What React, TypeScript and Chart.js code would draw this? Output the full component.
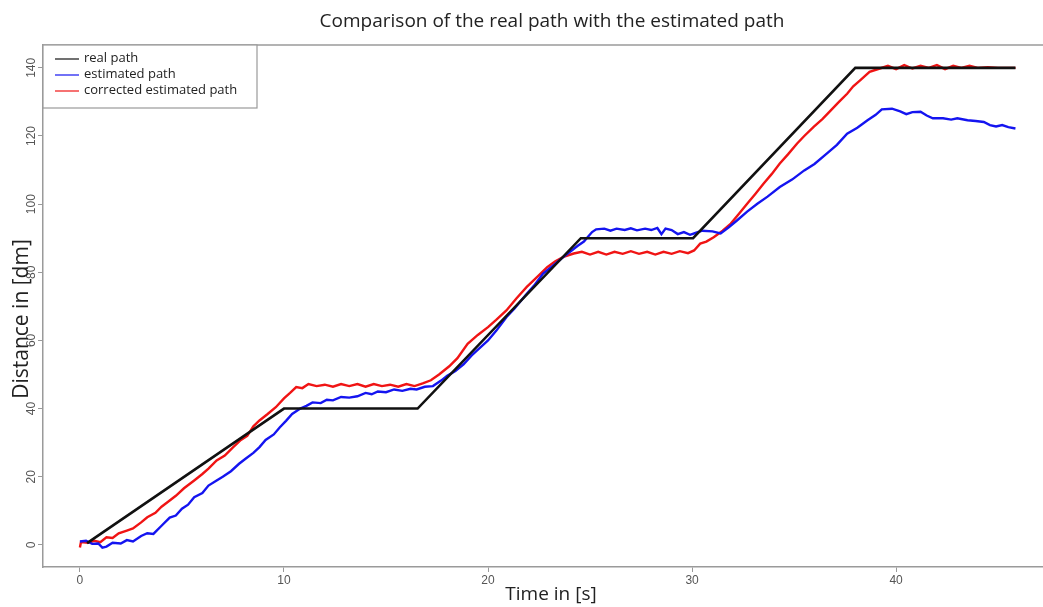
import React, { useEffect, useRef } from "react";
import { Chart, registerables } from "chart.js";

Chart.register(...registerables);

const titleText = "Comparison of the real path with the estimated path";
const xTitle = "Time in [s]";
const yTitle = "Distance in [dm]";
const seriesNames = ["real path", "estimated path", "corrected estimated path"];
const seriesColors = ["#111111", "#1414f0", "#f01414"];

const xTicks = [0, 10, 20, 30, 40];
const yTicks = [0, 20, 40, 60, 80, 100, 120, 140];

const realX = [0.35, 10, 16.55, 24.55, 30.05, 38.0, 45.85];
const realY = [0.5, 40, 40, 90, 90, 140, 140];

const estX = [0.0, 0.3, 0.6, 0.9, 1.1, 1.3, 1.6, 2.0, 2.3, 2.6, 3.0, 3.3, 3.6, 4.0, 4.4, 4.7, 5.0, 5.3, 5.6, 6.0, 6.3, 6.7, 7.0, 7.4, 7.8, 8.1, 8.5, 8.8, 9.1, 9.5, 9.8, 10.1, 10.4, 10.8, 11.1, 11.4, 11.8, 12.1, 12.4, 12.8, 13.2, 13.6, 14.0, 14.3, 14.6, 15.0, 15.4, 15.8, 16.2, 16.5, 16.9, 17.3, 17.7, 18.0, 18.4, 18.8, 19.2, 19.6, 20.0, 20.4, 20.9, 21.3, 21.9, 22.3, 22.7, 23.2, 23.7, 24.1, 24.4, 24.7, 24.9, 25.1, 25.3, 25.7, 26.0, 26.3, 26.7, 27.0, 27.3, 27.7, 28.0, 28.3, 28.5, 28.7, 29.0, 29.3, 29.6, 29.9, 30.2, 30.5, 31.0, 31.4, 31.8, 32.2, 32.7, 33.2, 33.7, 34.3, 34.9, 35.5, 36.0, 36.6, 37.1, 37.6, 38.1, 38.6, 39.0, 39.3, 39.8, 40.2, 40.5, 40.8, 41.2, 41.5, 41.8, 42.3, 42.7, 43.0, 43.5, 43.9, 44.3, 44.6, 44.9, 45.2, 45.5, 45.85];
const estY = [1.0, 1.2, 0.3, 0.4, -0.8, -0.5, 0.6, 0.4, 1.4, 1.0, 2.6, 3.4, 3.2, 5.6, 8.0, 8.6, 10.6, 11.8, 14.0, 15.2, 17.4, 18.9, 20.0, 21.6, 23.8, 25.2, 27.0, 28.7, 30.8, 32.4, 34.5, 36.4, 38.4, 40.0, 40.8, 41.8, 41.6, 42.6, 42.4, 43.4, 43.2, 43.6, 44.6, 44.2, 45.0, 44.8, 45.6, 45.2, 45.8, 45.6, 46.4, 46.6, 48.2, 49.6, 51.0, 53.0, 55.6, 57.8, 60.0, 62.8, 66.8, 69.4, 73.7, 76.4, 79.6, 82.0, 84.5, 86.4, 87.8, 89.0, 90.4, 91.8, 92.6, 92.8, 92.2, 92.8, 92.4, 92.9, 92.3, 92.8, 92.4, 93.0, 91.2, 92.8, 92.4, 91.2, 91.8, 91.0, 91.6, 92.2, 92.0, 91.4, 93.2, 95.2, 97.8, 100.1, 102.2, 105.0, 107.2, 109.9, 111.8, 114.8, 117.4, 120.7, 122.4, 124.6, 126.2, 127.8, 128.0, 127.2, 126.4, 127.0, 127.1, 126.0, 125.2, 125.2, 124.8, 125.2, 124.6, 124.4, 124.1, 123.2, 122.8, 123.2, 122.6, 122.2];

const corrX = [0.0, 0.05, 0.4, 0.7, 1.0, 1.3, 1.6, 1.9, 2.3, 2.6, 3.0, 3.3, 3.7, 4.0, 4.4, 4.7, 5.1, 5.6, 6.0, 6.3, 6.7, 7.1, 7.5, 7.85, 8.2, 8.5, 8.8, 9.2, 9.6, 10.0, 10.3, 10.6, 10.9, 11.2, 11.6, 12.0, 12.4, 12.8, 13.2, 13.6, 14.0, 14.4, 14.8, 15.2, 15.6, 16.0, 16.4, 16.8, 17.2, 17.6, 18.1, 18.5, 19.0, 19.5, 20.0, 20.4, 20.9, 21.4, 21.9, 22.4, 22.9, 23.3, 23.7, 24.2, 24.6, 25.0, 25.4, 25.8, 26.2, 26.6, 27.0, 27.4, 27.8, 28.2, 28.6, 29.0, 29.4, 29.8, 30.1, 30.4, 30.7, 31.06, 31.5, 31.9, 32.3, 32.7, 33.1, 33.5, 33.9, 34.3, 34.7, 35.15, 35.5, 35.96, 36.4, 36.8, 37.2, 37.6, 37.9, 38.25, 38.7, 39.2, 39.6, 40.0, 40.4, 40.8, 41.2, 41.6, 42.0, 42.4, 42.8, 43.2, 43.6, 44.0, 44.5, 45.0, 45.85];
const corrY = [-0.8, 0.8, 0.6, 1.2, 0.8, 2.2, 2.0, 3.4, 4.2, 4.8, 6.6, 8.1, 9.4, 11.2, 13.0, 14.4, 16.6, 18.9, 20.8, 22.4, 24.8, 26.2, 28.6, 30.6, 32.0, 34.8, 36.5, 38.4, 40.4, 43.0, 44.6, 46.3, 46.0, 47.2, 46.6, 47.0, 46.4, 47.2, 46.6, 47.2, 46.4, 47.2, 46.6, 47.0, 46.4, 47.2, 46.6, 47.4, 48.3, 50.0, 52.4, 54.8, 59.0, 61.6, 63.9, 66.0, 68.8, 72.4, 75.7, 78.6, 81.5, 83.2, 84.5, 85.5, 86.0, 85.2, 86.0, 85.2, 86.0, 85.4, 86.2, 85.4, 86.0, 85.2, 86.0, 85.4, 86.2, 85.6, 86.4, 88.4, 89.0, 90.3, 92.2, 94.3, 97.2, 100.1, 103.0, 106.0, 108.8, 111.9, 114.6, 117.8, 120.0, 122.7, 125.0, 127.5, 130.0, 132.4, 134.6, 136.4, 138.8, 139.8, 140.6, 139.6, 140.8, 139.8, 140.6, 140.0, 140.8, 139.6, 140.6, 140.0, 140.6, 140.0, 140.2, 140.0, 140.0];

const toPts = (xs: number[], ys: number[]) => xs.map((x, i) => ({ x, y: ys[i] }));

const decorPlugin = {
  id: "decor",
  afterDraw(chart: any) {
    const ctx = chart.ctx as CanvasRenderingContext2D;
    const a = chart.chartArea;
    ctx.save();
    // top border
    ctx.strokeStyle = "#9a9a9a";
    ctx.lineWidth = 1.5;
    ctx.beginPath();
    ctx.moveTo(a.left, a.top);
    ctx.lineTo(a.right, a.top);
    ctx.stroke();

    // y tick labels, rotated like R's default
    const ys = chart.scales.y;
    ctx.fillStyle = "#555";
    ctx.font = "12px 'Liberation Sans'";
    ctx.textAlign = "center";
    ctx.textBaseline = "middle";
    yTicks.forEach((v) => {
      const py = ys.getPixelForValue(v);
      ctx.save();
      ctx.translate(31.5, py);
      ctx.rotate(-Math.PI / 2);
      ctx.fillText(String(v), 0, 0);
      ctx.restore();
    });

    // legend box
    const lx = a.left, ly = a.top, lw = 214, lh = 63;
    ctx.fillStyle = "#ffffff";
    ctx.fillRect(lx, ly, lw, lh);
    ctx.strokeStyle = "#9a9a9a";
    ctx.lineWidth = 1.2;
    ctx.strokeRect(lx, ly, lw, lh);
    ctx.font = "13px 'Open Sans'";
    ctx.textBaseline = "middle";
    ctx.textAlign = "left";
    const rows = [59, 75, 91];
    chart.data.datasets.forEach((ds: any, i: number) => {
      const y = rows[i];
      ctx.strokeStyle = ds.borderColor;
      ctx.lineWidth = 1.2;
      ctx.beginPath();
      ctx.moveTo(lx + 12, y);
      ctx.lineTo(lx + 36, y);
      ctx.stroke();
      ctx.fillStyle = "#222";
      ctx.fillText(ds.label, lx + 41, y - 1);
    });

    // title
    ctx.fillStyle = "#222";
    ctx.font = "19px 'Open Sans'";
    ctx.textAlign = "center";
    ctx.fillText(titleText, 552, 22);

    // x title
    ctx.font = "19px 'Open Sans'";
    ctx.fillText(xTitle, 551, 595);

    // y title
    ctx.font = "21px 'Open Sans'";
    ctx.translate(22, 319);
    ctx.rotate(-Math.PI / 2);
    ctx.fillText(yTitle, 0, 0);
    ctx.restore();
  },
};

export default function App() {
  const ref = useRef<HTMLCanvasElement | null>(null);
  useEffect(() => {
    if (!ref.current) return;
    const chart = new Chart(ref.current, {
      type: "line",
      data: {
        datasets: [
          { label: seriesNames[0], data: toPts(realX, realY), borderColor: seriesColors[0], borderWidth: 2.6 },
          { label: seriesNames[1], data: toPts(estX, estY), borderColor: seriesColors[1], borderWidth: 2.4 },
          { label: seriesNames[2], data: toPts(corrX, corrY), borderColor: seriesColors[2], borderWidth: 2.4 },
        ],
      },
      options: {
        animation: false,
        responsive: false,
        maintainAspectRatio: false,
        layout: { padding: { top: 45, left: 0, right: 0, bottom: 0 } },
        elements: { point: { radius: 0 }, line: { tension: 0 } },
        plugins: { legend: { display: false }, title: { display: false }, tooltip: { enabled: false } },
        scales: {
          x: {
            type: "linear",
            min: -1.81,
            max: 47.2,
            afterFit: (s: any) => { s.height = 40; },
            afterBuildTicks: (s: any) => { s.ticks = xTicks.map((v) => ({ value: v })); },
            grid: { drawOnChartArea: false, tickLength: 5, color: "#9a9a9a", lineWidth: 1 },
            border: { display: true, color: "#9a9a9a", width: 1.5 },
            ticks: { font: { family: "'Liberation Sans'", size: 12 }, color: "#555", padding: 1, maxRotation: 0 },
          },
          y: {
            type: "linear",
            min: -6.5,
            max: 146.7,
            afterFit: (s: any) => { s.width = 43; },
            afterBuildTicks: (s: any) => { s.ticks = yTicks.map((v) => ({ value: v })); },
            grid: { drawOnChartArea: false, tickLength: 5, color: "#9a9a9a", lineWidth: 1 },
            border: { display: true, color: "#9a9a9a", width: 1.5 },
            ticks: { display: false },
          },
        },
      },
      plugins: [decorPlugin],
    });
    return () => chart.destroy();
  }, []);
  return (
    <div style={{ position: "fixed", left: 0, top: 0, width: 1043, height: 607, background: "#fff" }}>
      <canvas ref={ref} width={1043} height={607} style={{ width: 1043, height: 607, display: "block" }} />
    </div>
  );
}
